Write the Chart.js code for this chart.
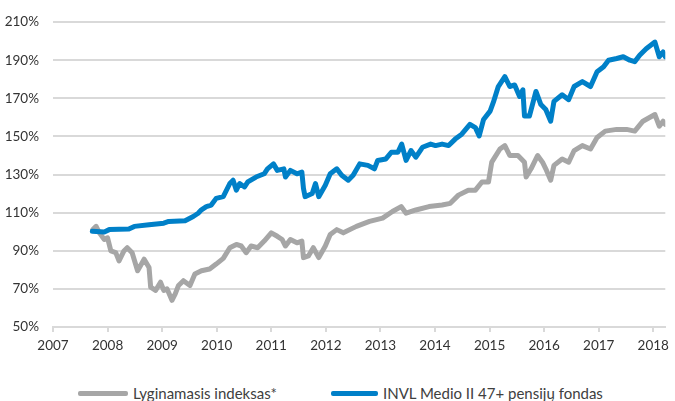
<!DOCTYPE html>
<html>
<head>
<meta charset="utf-8">
<script src="https://cdn.jsdelivr.net/npm/chart.js@4/dist/chart.umd.min.js"></script>
<style>
  html, body { margin: 0; padding: 0; background: #fff; }
  #wrap { position: relative; width: 675px; height: 401px; }
  #box { position: absolute; left: 0; top: 0; width: 675px; height: 360px; }
  #legend { position: absolute; left: 0; top: 383px; width: 675px; height: 20px;
    font: 15px Lato, sans-serif; color: #404040; }
  .item { position: absolute; top: 0; display: flex; align-items: center; height: 20px; white-space: nowrap; }
  .swatch { height: 5px; border-radius: 2px; margin-right: 5px; }
</style>
</head>
<body>
<div id="wrap">
  <div id="box"><canvas id="chart"></canvas></div>
  <div id="legend"></div>
</div>
<script>
// series (x = decimal year, y = %)
const greyLabel = "Lyginamasis indeksas*";
const greyYears = [2007.73, 2007.79, 2007.85, 2007.94, 2008.0, 2008.06, 2008.15, 2008.21, 2008.3, 2008.36,
  2008.45, 2008.55, 2008.67, 2008.76, 2008.79, 2008.88, 2008.97, 2009.03, 2009.09, 2009.18,
  2009.24, 2009.3, 2009.39, 2009.51, 2009.6, 2009.72, 2009.87, 2009.99, 2010.12, 2010.24,
  2010.36, 2010.45, 2010.54, 2010.63, 2010.75, 2010.87, 2011.0, 2011.11, 2011.2, 2011.26,
  2011.35, 2011.47, 2011.56, 2011.59, 2011.68, 2011.77, 2011.87, 2011.99, 2012.08, 2012.2,
  2012.32, 2012.56, 2012.8, 2013.04, 2013.22, 2013.38, 2013.47, 2013.65, 2013.89, 2014.13,
  2014.28, 2014.43, 2014.61, 2014.74, 2014.86, 2014.98, 2015.04, 2015.19, 2015.28, 2015.37,
  2015.52, 2015.64, 2015.67, 2015.76, 2015.88, 2015.97, 2016.03, 2016.12, 2016.18, 2016.33,
  2016.45, 2016.55, 2016.7, 2016.85, 2016.97, 2017.12, 2017.33, 2017.51, 2017.66, 2017.81,
  2018.03, 2018.11, 2018.18, 2018.22];
const greyValues = [101.1, 102.8, 99.4, 95.9, 96.8, 89.9, 89, 84.7, 89.9, 91.6,
  89, 79.5, 85.6, 81.2, 70.9, 69.2, 73.5, 69.2, 70, 64,
  67.4, 71.8, 74.3, 71.8, 77.8, 79.5, 80.4, 83, 86, 91.6,
  93.3, 92.5, 89, 92.5, 91.6, 95.1, 99.4, 97.6, 95.9, 92.5,
  95.9, 94.2, 95.1, 86.4, 87.3, 91.6, 86.4, 92.5, 98.5, 101.1,
  99.4, 102.8, 105.4, 107.1, 110.6, 113.2, 109.7, 111.4, 113.2, 114,
  114.9, 119.2, 121.8, 121.8, 126.1, 126.1, 136.5, 143.4, 145.2, 140,
  140, 136.5, 128.7, 133, 140, 136.5, 133, 127, 134.8, 138.2,
  136.5, 142.6, 145.2, 143.4, 149.4, 152.8, 153.7, 153.7, 152.8, 158,
  161.5, 155.4, 158, 156.3];

const blueLabel = "INVL Medio II 47+ pensijų fondas";
const blueYears = [2007.72, 2007.94, 2008.03, 2008.39, 2008.49, 2008.76, 2009.03, 2009.12, 2009.42, 2009.57,
  2009.66, 2009.72, 2009.81, 2009.9, 2009.99, 2010.12, 2010.24, 2010.3, 2010.36, 2010.42,
  2010.51, 2010.57, 2010.72, 2010.87, 2010.93, 2011.04, 2011.11, 2011.23, 2011.26, 2011.35,
  2011.47, 2011.56, 2011.59, 2011.62, 2011.75, 2011.81, 2011.87, 2011.99, 2012.08, 2012.2,
  2012.29, 2012.41, 2012.5, 2012.62, 2012.77, 2012.89, 2012.95, 2013.1, 2013.2, 2013.32,
  2013.39, 2013.47, 2013.56, 2013.65, 2013.77, 2013.92, 2014.01, 2014.13, 2014.25, 2014.37,
  2014.49, 2014.64, 2014.74, 2014.81, 2014.89, 2015.01, 2015.07, 2015.16, 2015.28, 2015.37,
  2015.46, 2015.55, 2015.61, 2015.64, 2015.73, 2015.85, 2015.94, 2016.03, 2016.12, 2016.18,
  2016.33, 2016.45, 2016.55, 2016.7, 2016.85, 2016.97, 2017.09, 2017.18, 2017.33, 2017.45,
  2017.57, 2017.66, 2017.75, 2017.87, 2018.03, 2018.11, 2018.18, 2018.22];
const blueValues = [100.2, 99.9, 101.1, 101.4, 102.8, 103.7, 104.5, 105.4, 105.8, 108,
  109.7, 111.5, 113.2, 114, 117.5, 118.4, 125.3, 127, 121.8, 125.3,
  123.5, 126.1, 128.7, 130.4, 133, 135.6, 132.2, 133, 128.7, 132.2,
  130.4, 131.3, 122.7, 118.4, 120.1, 125.3, 118.4, 124.4, 130.4, 133,
  129.6, 127, 129.6, 135.6, 134.8, 133, 137.4, 138.2, 141.7, 141.7,
  146, 137.4, 142.6, 139.1, 144.3, 146, 145.2, 146, 145.2, 148.6,
  151.2, 156.3, 154.6, 150.3, 158.9, 163.3, 168, 176.2, 181.4, 176.2,
  177, 171, 174.5, 160.7, 160.7, 173.6, 166.7, 164.1, 158, 168.4,
  171.9, 169.3, 176.2, 178.8, 176.2, 184, 186.6, 190, 190.9, 191.8,
  190, 189.2, 192.6, 196, 199.5, 191.8, 194.3, 191.8];

const GREY = "#a6a6a6";
const BLUE = "#0080c8";
const GRID = "#d9d9d9";
const TEXT = "#333333";

function pts(xs, ys) {
  return xs.map((x, i) => ({ x: x, y: ys[i] }));
}

const ctx = document.getElementById("chart").getContext("2d");
new Chart(ctx, {
  type: "line",
  data: {
    datasets: [
      { label: greyLabel, data: pts(greyYears, greyValues), borderColor: GREY, backgroundColor: GREY,
        borderWidth: 5, pointRadius: 0, tension: 0, order: 1, borderJoinStyle: "round", borderCapStyle: "round" },
      { label: blueLabel, data: pts(blueYears, blueValues), borderColor: BLUE, backgroundColor: BLUE,
        borderWidth: 5, pointRadius: 0, tension: 0, order: 0, borderJoinStyle: "round", borderCapStyle: "round" },
    ],
  },
  options: {
    responsive: true,
    maintainAspectRatio: false,
    animation: false,
    layout: { padding: { top: 18, right: 3, left: 0, bottom: 0 } },
    plugins: { legend: { display: false }, tooltip: { enabled: false } },
    scales: {
      x: {
        type: "linear",
        min: 2007,
        max: 2018.22,
        afterFit: (s) => { s.height = 33; },
        grid: { drawOnChartArea: false, drawTicks: true, tickLength: 5, color: GRID, lineWidth: 2 },
        border: { display: true, color: GRID, width: 2 },
        ticks: {
          stepSize: 1,
          includeBounds: false,
          padding: 6,
          color: TEXT,
          font: { family: "Lato", size: 13.5 },
          maxRotation: 0,
          callback: (v) => String(v),
        },
      },
      y: {
        min: 50,
        max: 210,
        afterFit: (s) => { s.width = 53; },
        grid: { color: GRID, lineWidth: 2, drawTicks: false },
        border: { display: false },
        ticks: {
          stepSize: 20,
          padding: 14,
          color: TEXT,
          font: { family: "Lato", size: 13.5 },
          callback: (v) => v + "%",
        },
      },
    },
  },
});

// legend
const legend = document.getElementById("legend");
[[greyLabel, GREY, 78, 50], [blueLabel, BLUE, 331, 47]].forEach(([txt, col, left, w]) => {
  const item = document.createElement("div");
  item.className = "item";
  item.style.left = left + "px";
  const sw = document.createElement("span");
  sw.className = "swatch";
  sw.style.background = col;
  sw.style.width = w + "px";
  const label = document.createElement("span");
  label.textContent = txt;
  item.append(sw, label);
  legend.append(item);
});
</script>
</body>
</html>
